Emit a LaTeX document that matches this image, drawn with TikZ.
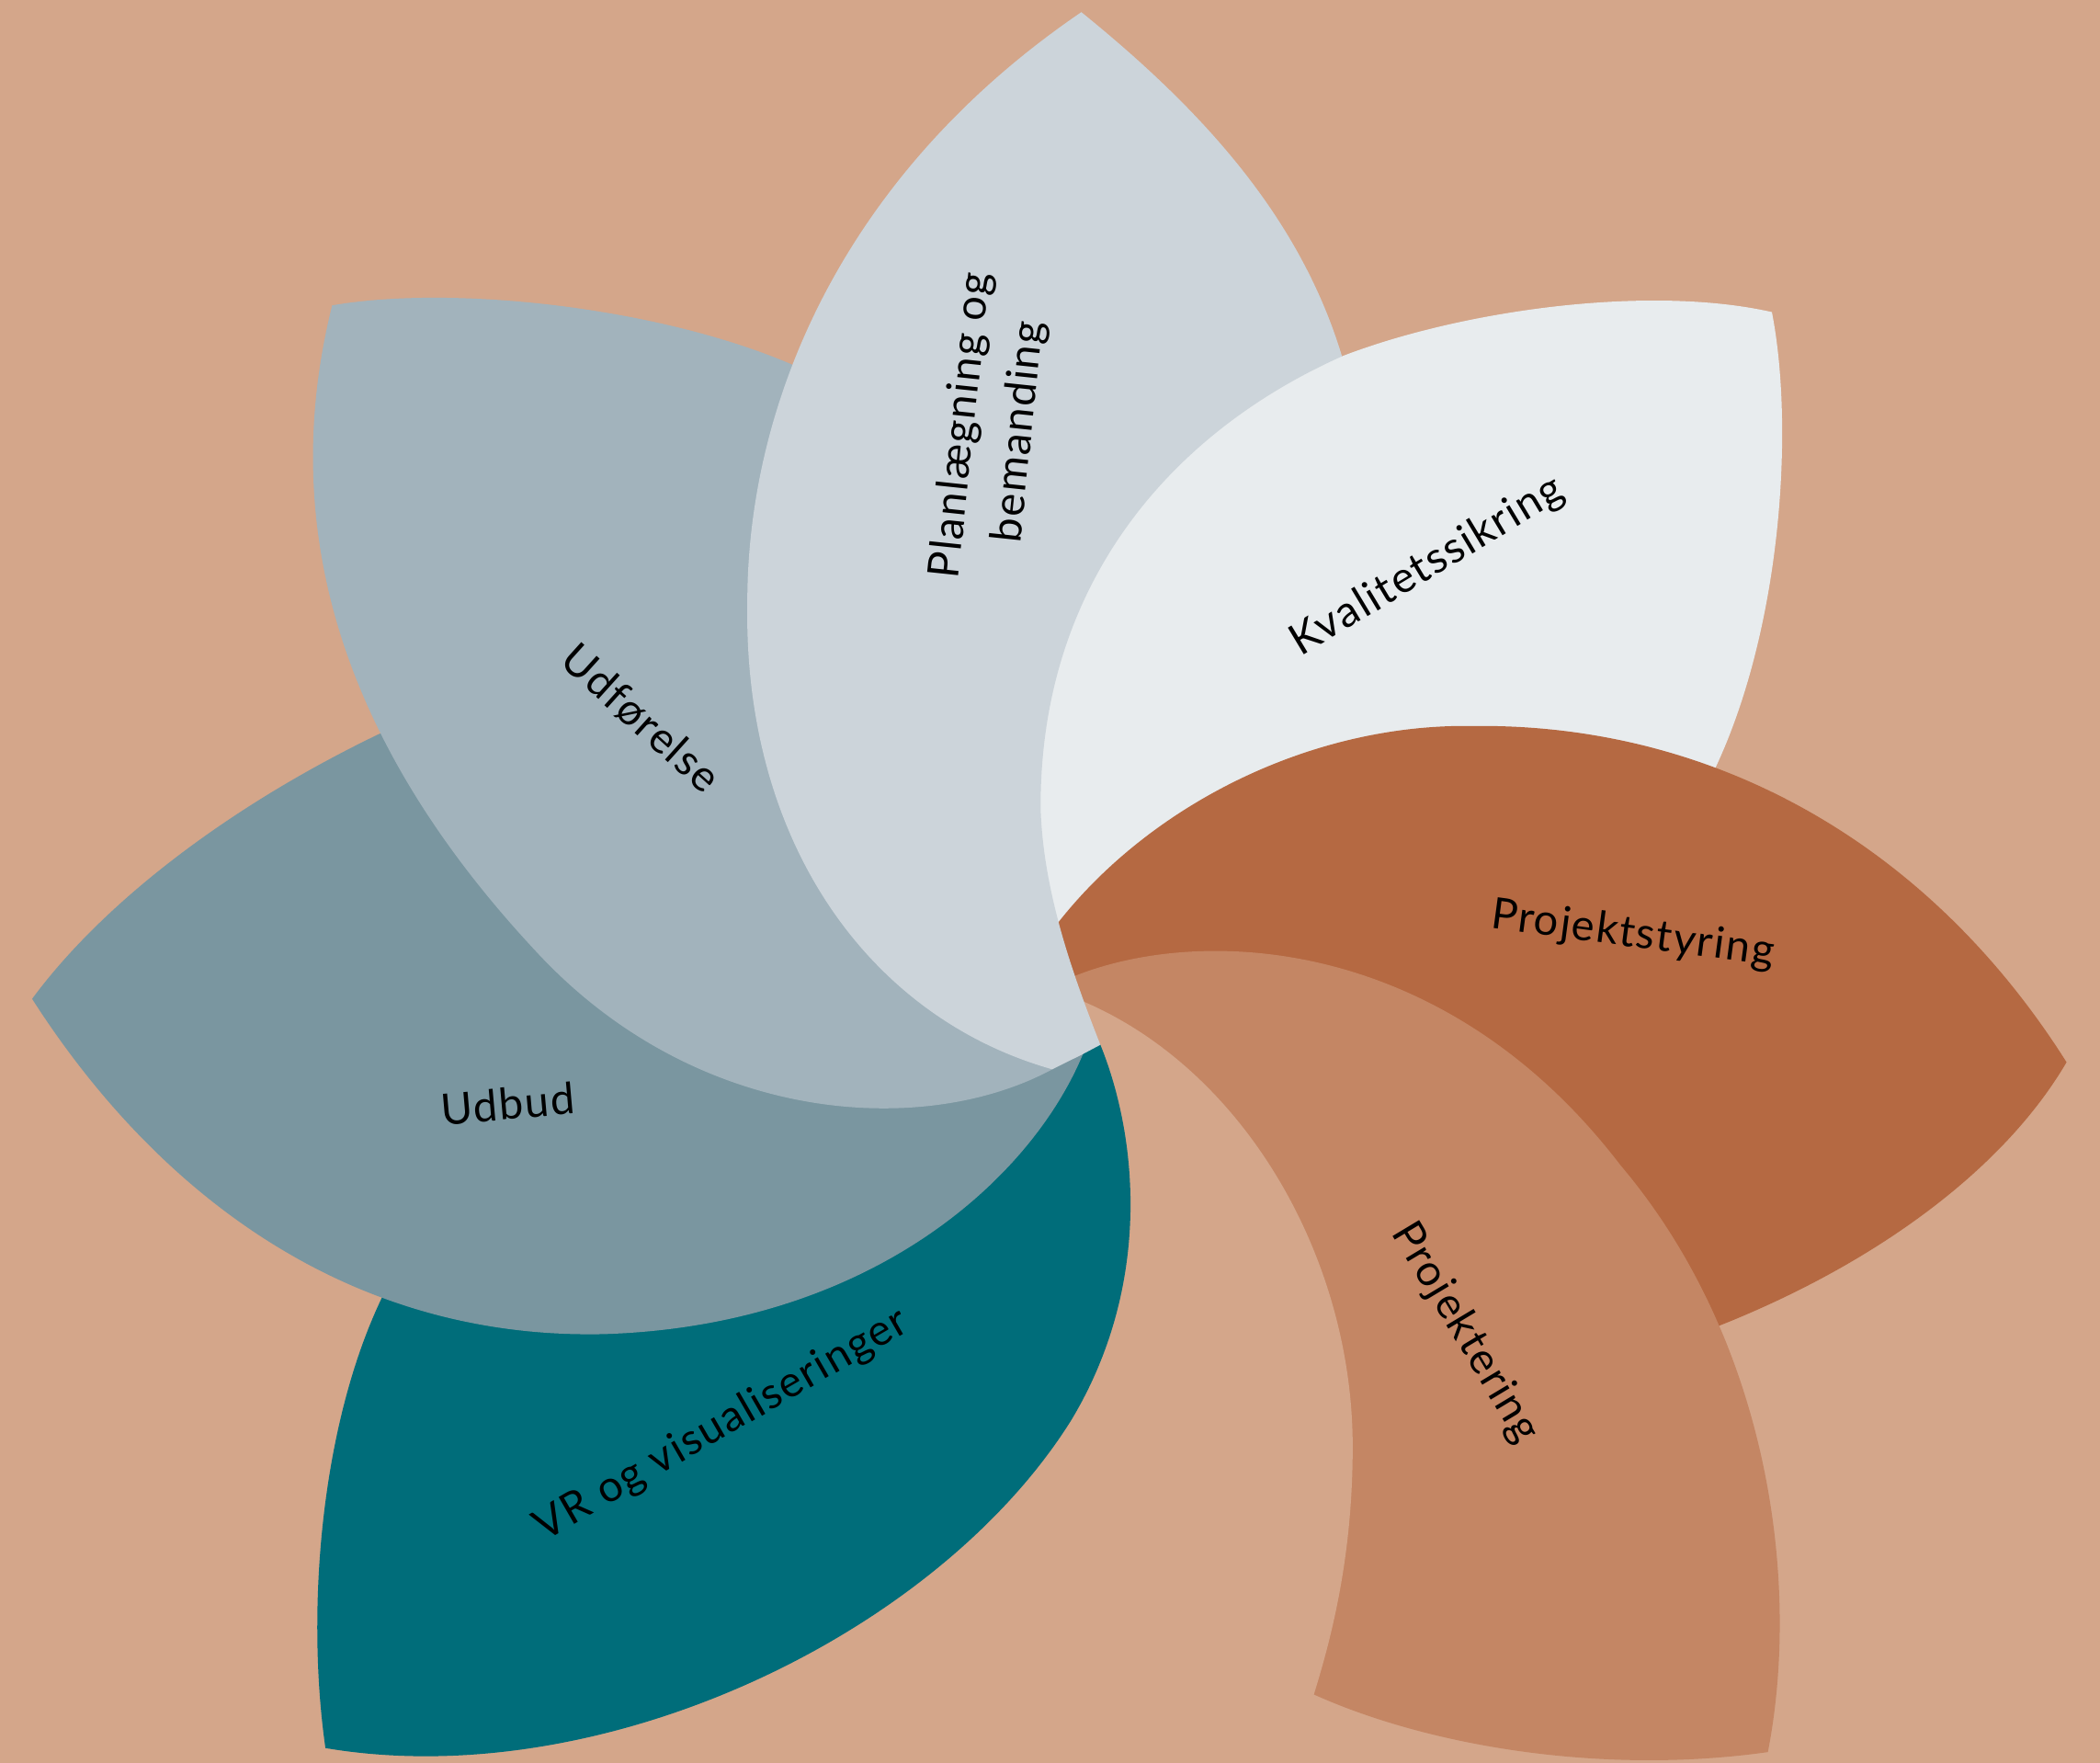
\documentclass[tikz,border=0pt]{standalone}
\usepackage{fontspec}
\setmainfont{Lato}[LetterSpace=3.5]
\definecolor{bgc}{HTML}{D4A68A}
\definecolor{cN}{HTML}{CCD4DA}
\definecolor{cNE}{HTML}{E8ECEE}
\definecolor{cE}{HTML}{B56942}
\definecolor{cSE}{HTML}{C48664}
\definecolor{cSW}{HTML}{006D7A}
\definecolor{cW}{HTML}{7A96A0}
\definecolor{cNW}{HTML}{A2B3BC}
\begin{document}
\begin{tikzpicture}[x=0.1mm,y=-0.1mm,
  lbl/.style={font=\fontsize{9.2}{12.3}\selectfont, text=black, inner sep=0pt, align=center}]
\useasboundingbox (0,0) rectangle (1568,1316);
\fill[bgc] (0,0) rectangle (1568,1316);
% NE petal (Kvalitetssikring)
\fill[cNE] (1002,266) .. controls (1090,232) and (1230,212) .. (1323,233)
  .. controls (1340,320) and (1330,470) .. (1280,575)
  -- (1240,660) -- (800,740) -- (720,640) -- (700,400) -- (900,250) -- cycle;
% E petal (Projektstyring)
\fill[cE] (784,697) -- (790.3,688.5) .. controls (860,600) and (980,540) .. (1100,542)
  .. controls (1280,540) and (1440,630) .. (1543,793)
  .. controls (1495,875) and (1395,948) .. (1270,995)
  -- (1200,900) -- (900,745) -- (800,745) -- cycle;
% SE petal (Projektering)
\fill[cSE] (795,731) -- (802.8,728.5) .. controls (900,690) and (1080,700) .. (1210,870)
  .. controls (1320,1000) and (1345,1180) .. (1320,1308)
  .. controls (1200,1325) and (1070,1305) .. (981,1265)
  -- (940,1240) -- (900,1000) -- (820,770) -- cycle;
% S petal (background colour)
\fill[bgc] (800,743) -- (809.7,748) .. controls (930,800) and (1010,940) .. (1010,1080)
  .. controls (1010,1160) and (995,1220) .. (981,1265)
  -- (965,1330) -- (600,1330) -- (600,900) -- (790,760) -- cycle;
% SW petal (VR)
\fill[cSW] (818,776) -- (821.6,780) .. controls (850,850) and (860,960) .. (800,1060)
  .. controls (700,1220) and (450,1340) .. (243,1305)
  .. controls (228,1200) and (240,1060) .. (287,965)
  -- (310,930) -- (700,830) -- (795,792) -- cycle;
% W petal (Udbud)
\fill[cW] (812,778) -- (808.6,786.9) .. controls (770,880) and (650,990) .. (450,996)
  .. controls (250,1000) and (110,880) .. (24,745.7)
  .. controls (80,670) and (180,595) .. (300,540)
  -- (330,530) -- (720,760) -- cycle;
% NW petal (Udfoerelse)
\fill[cNW] (798,788) -- (785.7,798.3) .. controls (690,850) and (520,840) .. (400,710)
  .. controls (260,560) and (205,400) .. (248,228)
  .. controls (340,212) and (500,230) .. (600,276)
  -- (640,295) -- (760,780) -- cycle;
% N petal (Planlaegning)
\fill[cN] (785.7,798.3) .. controls (650,760) and (555,630) .. (558,450)
  .. controls (558,300) and (630,130) .. (807.4,9.1)
  .. controls (895,80) and (970,160) .. (1002,266)
  .. controls (870,325) and (776,440) .. (777,604)
  .. controls (779,665) and (800,725) .. (821.6,780)
  -- (808.6,786.9) -- cycle;
% labels
\node[lbl, rotate=84] (tPlan) at (740,320) {Planlægning og\\bemanding};
\node[lbl, rotate=31] (tKval) at (1066,423) {Kvalitetssikring};
\node[lbl, rotate=-7.6] (tStyr) at (1219,698) {Projektstyring};
\node[lbl, rotate=-59] (tProj) at (1094,995) {Projektering};
\node[lbl, rotate=30] (tVR) at (539,1064) {VR og visualiseringer};
\node[lbl, rotate=5] (tUdbud) at (379,824) {Udbud};
\node[lbl, rotate=-42] (tUdf) at (479,536) {Udførelse};
\end{tikzpicture}
\end{document}
